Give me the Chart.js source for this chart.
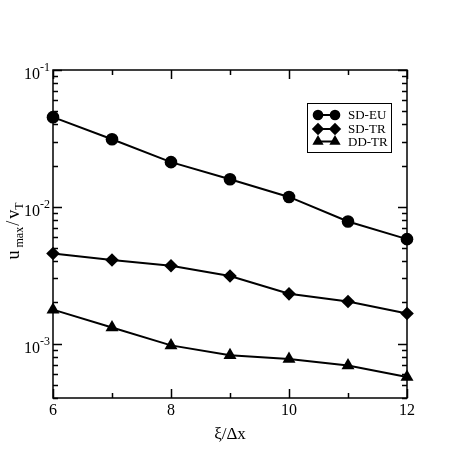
<!DOCTYPE html>
<html>
<head>
<meta charset="utf-8">
<script src="https://cdn.jsdelivr.net/npm/chart.js@4.4.0/dist/chart.umd.min.js"></script>
<style>
  html, body { margin: 0; padding: 0; background: #fff; }
  #wrap { width: 457px; height: 469px; }
</style>
</head>
<body>
<div id="wrap"><canvas id="umaxChart"></canvas></div>
<script>
// values
const xValues = [6, 7, 8, 9, 10, 11, 12];
const sdEu = [0.0452, 0.0312, 0.0212, 0.0159, 0.0118, 0.0078, 0.0058];
const sdTr = [0.00456, 0.00408, 0.00371, 0.00312, 0.00231, 0.00203, 0.00166];
const ddTr = [0.00177, 0.00131, 0.00097, 0.00082, 0.00077, 0.00069, 0.00057];
const seriesNames = ["SD-EU", "SD-TR", "DD-TR"];
const xTicks = [6, 8, 10, 12];
const xMinorTicks = [7, 9, 11];
const yDecades = [1e-3, 1e-2, 1e-1];
const yExponents = ["-3", "-2", "-1"];

const FONT = "'Liberation Serif', 'DejaVu Serif', serif";

function toPoints(ys) {
    return xValues.map((x, i) => ({ x: x, y: ys[i] }));
}

const markers = [
    { pointStyle: "circle", radius: 6.3, legendRadius: 5.3 },
    { pointStyle: "rectRot", radius: 6.8, legendRadius: 6.2 },
    { pointStyle: "triangle", radius: 7.5, legendRadius: 6.5 }
];

// frame, ticks, labels and legend in the xmgrace look
const gracePlugin = {
    id: "grace",
    afterDraw(chart) {
        const ctx = chart.ctx;
        const xs = chart.scales.x;
        const ys = chart.scales.y;
        const a = chart.chartArea;
        ctx.save();
        ctx.strokeStyle = "#000";
        ctx.fillStyle = "#000";
        ctx.lineWidth = 1.5;
        ctx.strokeRect(a.left, a.top, a.right - a.left, a.bottom - a.top);

        ctx.beginPath();
        // x ticks, bottom and top
        xTicks.concat(xMinorTicks).forEach(v => {
            const px = Math.round(xs.getPixelForValue(v)) + 0.5;
            const len = xTicks.includes(v) ? 9 : 5;
            ctx.moveTo(px, a.bottom); ctx.lineTo(px, a.bottom - len);
            ctx.moveTo(px, a.top); ctx.lineTo(px, a.top + len);
        });
        // y ticks, left and right
        for (let d = 1e-4; d < 0.2; d *= 10) {
            for (let m = 1; m <= 9; m++) {
                const v = d * m;
                if (v < ys.min || v > ys.max * 1.0001) continue;
                const py = Math.round(ys.getPixelForValue(v)) + 0.5;
                const len = m === 1 ? 9 : 5;
                ctx.moveTo(a.left, py); ctx.lineTo(a.left + len, py);
                ctx.moveTo(a.right, py); ctx.lineTo(a.right - len, py);
            }
        }
        ctx.stroke();

        // x tick labels
        ctx.font = "16px " + FONT;
        ctx.textAlign = "center";
        ctx.textBaseline = "middle";
        xTicks.forEach(v => {
            ctx.fillText(String(v), xs.getPixelForValue(v), a.bottom + 13);
        });

        // y tick labels 10^n
        yDecades.forEach((v, i) => {
            const py = ys.getPixelForValue(v);
            ctx.font = "16px " + FONT;
            ctx.textAlign = "right";
            ctx.fillText("10", a.left - 13, py + 5);
            ctx.font = "12px " + FONT;
            ctx.textAlign = "left";
            ctx.fillText(yExponents[i], a.left - 13, py - 2);
        });

        // x axis title
        ctx.font = "17px " + FONT;
        ctx.textAlign = "center";
        ctx.fillText("\u03BE/\u0394x", (a.left + a.right) / 2, a.bottom + 37);

        // y axis title u_max/v_T
        ctx.save();
        ctx.translate(19, 231);
        ctx.rotate(-Math.PI / 2);
        ctx.textAlign = "left";
        ctx.textBaseline = "alphabetic";
        const big = "18px " + FONT, small = "12px " + FONT;
        // text, font, baseline shift, gap after
        const parts = [["u", big, 0, 3], ["max", small, 4, 1], ["/", big, 0, 2], ["v", big, 0, 0], ["T", small, 4, 0]];
        let total = 0;
        parts.forEach(p => { ctx.font = p[1]; total += ctx.measureText(p[0]).width + p[3]; });
        let cx = -total / 2;
        parts.forEach(p => {
            ctx.font = p[1];
            ctx.fillText(p[0], cx, p[2]);
            cx += ctx.measureText(p[0]).width + p[3];
        });
        ctx.restore();

        // legend
        const lx = 307, ly = 103, lw = 84, lh = 49;
        ctx.fillStyle = "#fff";
        ctx.fillRect(lx, ly, lw, lh);
        ctx.lineWidth = 1;
        ctx.strokeStyle = "#000";
        ctx.strokeRect(lx + 0.5, ly + 0.5, lw, lh);
        ctx.fillStyle = "#000";
        ctx.font = "13px " + FONT;
        ctx.textAlign = "left";
        ctx.textBaseline = "middle";
        const rows = [115, 129, 141.5];
        const textRows = [115.5, 130, 143];
        rows.forEach((ry, i) => {
            ctx.lineWidth = 2;
            ctx.beginPath();
            ctx.moveTo(318, ry); ctx.lineTo(335, ry);
            ctx.stroke();
            [318, 335].forEach(mx => {
                Chart.helpers.drawPoint(ctx, {
                    pointStyle: markers[i].pointStyle,
                    radius: markers[i].legendRadius,
                    rotation: 0,
                    borderWidth: 0
                }, mx, ry);
            });
            ctx.fillStyle = "#000";
            ctx.fillText(seriesNames[i], 348, textRows[i]);
        });
        ctx.restore();
    }
};

function dataset(label, ys, i) {
    return {
        label: label,
        data: toPoints(ys),
        borderColor: "#000",
        backgroundColor: "#000",
        borderWidth: 2,
        pointStyle: markers[i].pointStyle,
        pointRadius: markers[i].radius,
        pointBorderWidth: 0,
        pointBackgroundColor: "#000",
        fill: false,
        tension: 0,
        clip: false
    };
}

new Chart("umaxChart", {
    type: "line",
    data: {
        datasets: [
            dataset(seriesNames[0], sdEu, 0),
            dataset(seriesNames[1], sdTr, 1),
            dataset(seriesNames[2], ddTr, 2)
        ]
    },
    options: {
        responsive: true,
        maintainAspectRatio: false,
        animation: false,
        devicePixelRatio: 1,
        layout: { padding: { left: 53, top: 70, right: 50, bottom: 71 } },
        plugins: {
            legend: { display: false },
            tooltip: { enabled: false }
        },
        scales: {
            x: { type: "linear", min: 6, max: 12, display: false },
            y: { type: "logarithmic", min: 0.0004, max: 0.1, display: false }
        }
    },
    plugins: [gracePlugin]
});
</script>
</body>
</html>
